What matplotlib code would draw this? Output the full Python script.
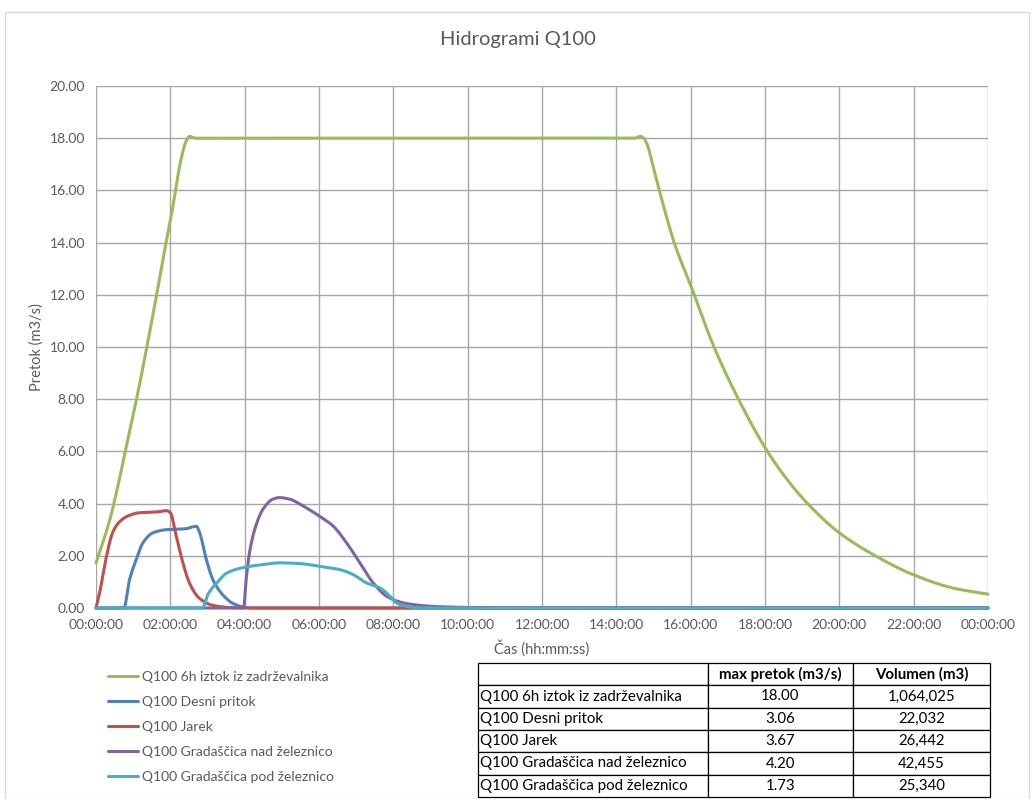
import matplotlib
matplotlib.use("Agg")
import matplotlib.pyplot as plt
from matplotlib.patches import Rectangle
import numpy as np

plt.rcParams['font.family'] = ['Lato', 'DejaVu Sans']

# time in hours
t_green = [0, 0.375, 0.63, 0.78, 1.09, 1.36, 1.63, 1.89, 2.03, 2.16, 2.29, 2.43, 2.52, 2.62, 2.7,
           14.5, 14.64, 14.72, 14.82, 15.0, 15.26, 15.58, 16.0, 16.61, 17.24, 18.0, 18.5, 19.12,
           20.0, 20.92, 22.0, 23.07, 24.0]
q_green = [1.72, 3.4, 4.94, 5.96, 8.0, 9.94, 11.99, 14.04, 15.06, 16.2, 17.2, 17.9, 18.07, 18.02, 18.0,
           18.0, 18.07, 18.02, 17.8, 16.85, 15.45, 13.9, 12.37, 10.06, 8.13, 6.15, 5.1, 4.04,
           2.88, 2.04, 1.27, 0.76, 0.53]

t_blue = [0, 0.75, 0.9, 1.08, 1.26, 1.53, 1.89, 2.2, 2.43, 2.57, 2.7, 2.79, 2.97, 3.15, 3.42, 3.69, 3.96, 4.2, 24]
q_blue = [0, 0, 1.07, 1.85, 2.49, 2.88, 3.0, 3.02, 3.04, 3.1, 3.13, 2.88, 1.85, 1.07, 0.49, 0.17, 0.04, 0, 0]

t_red = [0, 0.1, 0.27, 0.45, 0.63, 0.9, 1.17, 1.5, 1.71, 1.89, 2.0, 2.16, 2.34, 2.52, 2.79, 3.15, 3.7, 4.2, 24]
q_red = [0, 0.6, 1.9, 2.9, 3.3, 3.55, 3.65, 3.67, 3.69, 3.73, 3.65, 2.75, 1.72, 0.94, 0.36, 0.1, 0.01, 0, 0]

t_purple = [0, 3.97, 4.04, 4.13, 4.27, 4.49, 4.76, 4.94, 5.21, 5.57, 6.0, 6.38, 6.74, 7.1, 7.46, 7.82,
            8.18, 8.54, 9.07, 9.7, 10.33, 11.0, 24]
q_purple = [0, 0, 1.09, 2.12, 3.01, 3.78, 4.17, 4.23, 4.17, 3.91, 3.53, 3.14, 2.5, 1.73, 0.96, 0.45,
            0.23, 0.13, 0.06, 0.03, 0.01, 0, 0]

t_cyan = [0, 2.86, 3.02, 3.24, 3.51, 3.87, 4.41, 4.94, 5.5, 6.0, 6.56, 6.92, 7.28, 7.64, 7.91, 8.09,
          8.36, 8.7, 9.2, 24]
q_cyan = [0, 0, 0.55, 0.94, 1.33, 1.52, 1.65, 1.73, 1.7, 1.6, 1.47, 1.28, 0.96, 0.77, 0.45, 0.19,
          0.06, 0.01, 0, 0]

labels = ["Q100 6h iztok iz zadrževalnika", "Q100 Desni pritok", "Q100 Jarek",
          "Q100 Gradaščica nad železnico", "Q100 Gradaščica pod železnico"]
colors = ["#9BBB59", "#4F81BD", "#C0504D", "#8064A2", "#4BACC6"]

max_pretok = ["18.00", "3.06", "3.67", "4.20", "1.73"]
volumen = ["1,064,025", "22,032", "26,442", "42,455", "25,340"]

x_ticks = list(range(0, 25, 2))
y_ticks = [0, 2, 4, 6, 8, 10, 12, 14, 16, 18, 20]


def smooth(x, y, n=20):
    # monotone cubic (pchip) so the drawn line is smooth like Excel's
    x = np.asarray(x, float)
    y = np.asarray(y, float)
    h = np.diff(x)
    d = np.diff(y) / h
    m = np.zeros_like(y)
    for i in range(1, len(x) - 1):
        if d[i - 1] * d[i] > 0:
            w1 = 2 * h[i] + h[i - 1]
            w2 = h[i] + 2 * h[i - 1]
            m[i] = (w1 + w2) / (w1 / d[i - 1] + w2 / d[i])
    m[0] = d[0]
    m[-1] = d[-1]
    xs, ys = [], []
    for i in range(len(h)):
        s = np.linspace(0, 1, n, endpoint=False)
        h00 = 2 * s**3 - 3 * s**2 + 1
        h10 = s**3 - 2 * s**2 + s
        h01 = -2 * s**3 + 3 * s**2
        h11 = s**3 - s**2
        xs.append(x[i] + s * h[i])
        ys.append(h00 * y[i] + h10 * h[i] * m[i] + h01 * y[i + 1] + h11 * h[i] * m[i + 1])
    xs.append([x[-1]])
    ys.append([y[-1]])
    return np.concatenate(xs), np.concatenate(ys)


W, H = 1032, 799
fig = plt.figure(figsize=(W / 100, H / 100), dpi=100)
fig.patches.append(Rectangle((5 / W, 0), 1024 / W, 1 - 12 / H, transform=fig.transFigure,
                             fill=False, edgecolor="#d9d9d9", lw=1))

ax = fig.add_axes([96 / W, 1 - 608 / H, (988 - 96) / W, (608 - 86) / H])
series = [(t_green, q_green), (t_blue, q_blue), (t_red, q_red), (t_purple, q_purple), (t_cyan, q_cyan)]
handles = []
for (t, q), c, lab in zip(series, colors, labels):
    xs, ys = smooth(t, q)
    h, = ax.plot(xs, ys, color=c, lw=2.2, label=lab, clip_on=False, solid_capstyle="round")
    handles.append(h)

ax.set_xlim(0, 24)
ax.set_ylim(0, 20)
ax.set_xticks(x_ticks)
ax.set_xticklabels(["%02d:00:00" % (h % 24) for h in x_ticks])
ax.set_yticks(y_ticks)
ax.set_yticklabels(["%.2f" % v for v in y_ticks])
ax.grid(True, color="#a6a6a6", lw=1)
ax.set_axisbelow(True)
for s in ax.spines.values():
    s.set_visible(False)
ax.tick_params(length=0, labelsize=10, labelcolor="#595959", pad=8)
ax.set_xlabel("Čas (hh:mm:ss)", fontsize=10.5, color="#595959", labelpad=6)
ax.set_ylabel("Pretok (m3/s)", fontsize=10.5, color="#595959", labelpad=4)

fig.text(518 / W, 1 - 40 / H, "Hidrogrami Q100", ha="center", va="center", fontsize=14.5, color="#595959")

fig.legend(handles, labels, loc="upper left", bbox_to_anchor=(102 / W, 1 - 665 / H), frameon=False,
           fontsize=10, labelcolor="#595959", handlelength=2.2, handletextpad=0.3, labelspacing=0.95,
           borderaxespad=0)

# table
tax = fig.add_axes([478 / W, 1 - 797 / H, (990 - 478) / W, (797 - 663) / H])
tax.axis("off")
cells = [["", "max pretok (m3/s)", "Volumen (m3)"]] + \
        [[lab, m, v] for lab, m, v in zip(labels, max_pretok, volumen)]
tbl = tax.table(cellText=cells, bbox=[0, 0, 1, 1], colWidths=[230, 145, 137])
tbl.auto_set_font_size(False)
for (r, c), cell in tbl.get_celld().items():
    cell.set_linewidth(0.9)
    cell.set_edgecolor("black")
    cell.get_text().set_fontsize(10.8)
    if c == 0:
        cell.get_text().set_ha("left")
        cell.PAD = 0.01
    else:
        cell.get_text().set_ha("center")
    if r == 0:
        cell.get_text().set_fontweight("bold")

fig.savefig("out.png", dpi=100)
